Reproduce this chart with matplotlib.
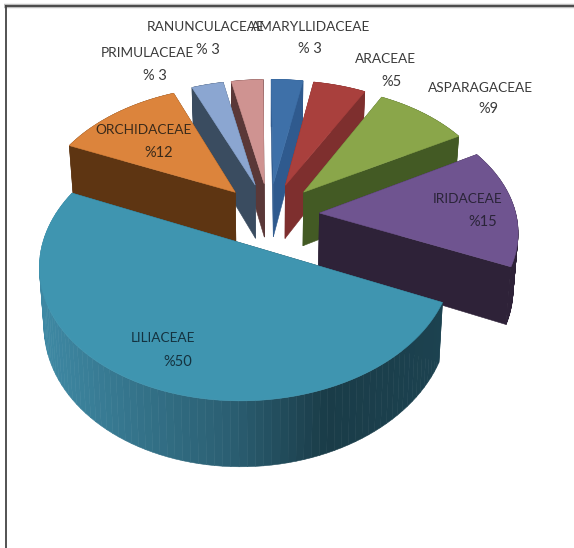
import numpy as np
import matplotlib
matplotlib.use('Agg')
import matplotlib.pyplot as plt
from matplotlib.patches import Polygon
from matplotlib.colors import to_rgb

plt.rcParams['font.family'] = ['Liberation Sans Narrow', 'Lato', 'DejaVu Sans']

names = ['AMARYLLIDACEAE', 'ARACEAE', 'ASPARAGACEAE', 'IRIDACEAE', 'LILIACEAE', 'ORCHIDACEAE', 'PRIMULACEAE', 'RANUNCULACEAE']
values = [3, 5, 9, 15, 50, 12, 3, 3]
percent_labels = ['% 3', '%5', '%9', '%15', '%50', '%12', '% 3', '% 3']

top_colors = ['#3E70A8', '#A9403D', '#8AA64A', '#6F5490', '#3F95B0', '#DC843C', '#8BA6D1', '#CF9391']
side_colors = ['#2F5A8E', '#7E2F2E', '#435A24', '#2E2238', '#1F4654', '#5E3512', '#3A4C60', '#5A3838']
text_colors = ['#3a3a3a', '#3a3a3a', '#3a3a3a', '#2a2438', '#14323f', '#3a2a1a', '#3a3a3a', '#3a3a3a']

# label centres in axes pixels
name_pos = [(311, 27), (385, 59), (480, 88), (468, 199), (163, 338), (143, 130), (147, 53), (206, 27)]
percent_pos = [(310, 49), (392, 82), (488, 109), (483, 222), (178, 362), (159, 153), (155, 76), (208, 50)]

# camera for the tilted disc
CX, CY = 269.3, 214.7
UX, UY = 180.1, 51.07
VX, VY = -82.08, 115.2
P, Q = -0.05009, -0.1245
EXPLODE = 0.2544
START = 0.1184
DEPTH = 55.0
SHRINK = 0.02

# back to front, the big slice last
draw_order = [7, 0, 6, 1, 5, 2, 3, 4]
sweep_order = [4, 5, 6, 7, 0, 1, 2, 3]


def project(x, y):
    w = 1 + P*x + Q*y
    return CX + (UX*x + VX*y)/w, CY + (UY*x + VY*y)/w, w


def lower(x, y):
    X, Y, w = project(x, y)
    return X + SHRINK*(268 - X), Y + DEPTH/w


def quad(ax, x, y, color):
    X0, Y0, _ = project(x, y)
    X1, Y1 = lower(x, y)
    pts = np.c_[np.r_[X0, X1[::-1]], np.r_[Y0, Y1[::-1]]]
    ax.add_patch(Polygon(pts, facecolor=color, edgecolor=color, lw=0.4))


# shading of the round wall of the big slice, dark on the right
def wall_color(x):
    stops_x = [45, 240, 330, 445]
    stops_c = [to_rgb('#3E88A3'), to_rgb('#2A5D70'), to_rgb('#1A3C48'), to_rgb('#1C4250')]
    return tuple(np.interp(x, stops_x, [c[i] for c in stops_c]) for i in range(3))


angles = {}
t = START
for k in sweep_order:
    angles[k] = (np.radians(t), np.radians(t + values[k]*3.6))
    t += values[k]*3.6

fig = plt.figure(figsize=(5.74, 5.48), dpi=100)
ax = fig.add_axes([0, 0, 1, 1])
ax.set_xlim(0, 574)
ax.set_ylim(548, 0)
ax.axis('off')

for k in draw_order:
    a, b = angles[k]
    mid = (a + b)/2
    x0, y0 = EXPLODE*np.cos(mid), EXPLODE*np.sin(mid)
    ts = np.linspace(a, b, 90)
    rim_x, rim_y = x0 + np.cos(ts), y0 + np.sin(ts)

    # flat cut faces
    for edge in (a, b):
        quad(ax, np.array([x0, x0 + np.cos(edge)]), np.array([y0, y0 + np.sin(edge)]), side_colors[k])

    # round wall
    for i in range(len(ts) - 1):
        if names[k] == 'LILIACEAE':
            c = wall_color(project(rim_x[i], rim_y[i])[0])
        else:
            c = side_colors[k]
        quad(ax, rim_x[i:i+2], rim_y[i:i+2], c)

    X, Y, _ = project(np.r_[x0, rim_x], np.r_[y0, rim_y])
    ax.add_patch(Polygon(np.c_[X, Y], facecolor=top_colors[k], edgecolor=top_colors[k], lw=0.4))

for k in range(len(names)):
    ax.text(name_pos[k][0], name_pos[k][1], names[k], ha='center', va='center', fontsize=9.8, color=text_colors[k])
    ax.text(percent_pos[k][0], percent_pos[k][1], percent_labels[k], ha='center', va='center', fontsize=10.5, color=text_colors[k])

# outer frame, top and left only
ax.plot([4, 574], [6, 6], color='#bdbdbd', lw=3.2, solid_capstyle='butt')
ax.plot([5, 574], [6, 6], color='#2b2b2b', lw=1.1, solid_capstyle='butt')
ax.plot([5.5, 5.5], [5, 548], color='#444444', lw=1.3, solid_capstyle='butt')

fig.savefig('out.png', dpi=100)
